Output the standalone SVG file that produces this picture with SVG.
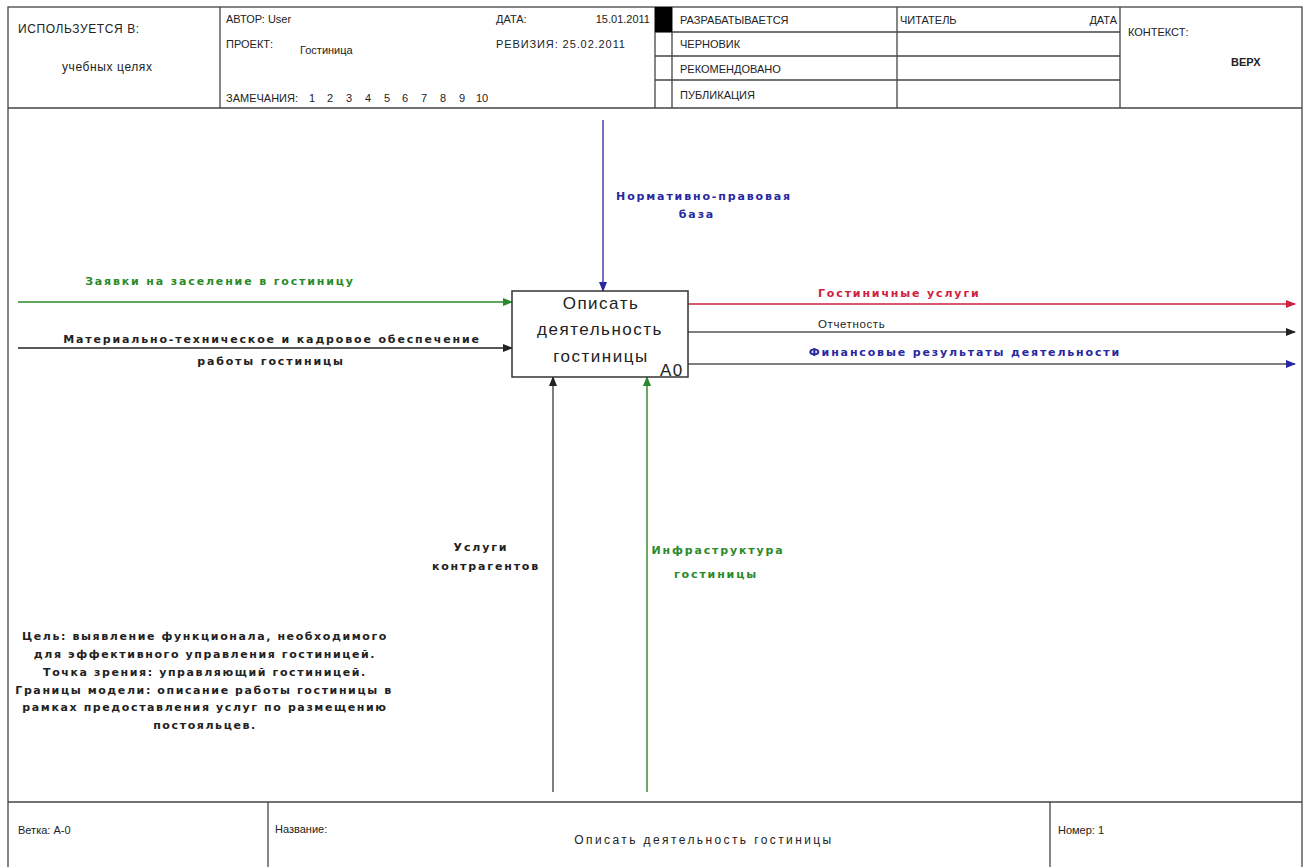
<svg xmlns="http://www.w3.org/2000/svg" width="1309" height="867" viewBox="0 0 1309 867">
<style>
.t{font-family:"Liberation Sans",Arial,sans-serif;font-size:11px;fill:#222}
.h{font-family:"Liberation Sans",Arial,sans-serif;font-size:12px;letter-spacing:0.6px;fill:#222}
.b{font-family:"Liberation Sans",Arial,sans-serif;font-size:11px;font-weight:bold;fill:#222}
.lbl{font-family:"DejaVu Sans",sans-serif;font-size:11px;font-weight:bold;letter-spacing:1.85px}
.ln{stroke:#444;stroke-width:1.3;fill:none}
.box{font-family:"Liberation Sans",Arial,sans-serif;font-size:17px;letter-spacing:1.5px;fill:#222}
.ft{font-family:"Liberation Sans",Arial,sans-serif;font-size:12px;letter-spacing:2.4px;fill:#222}
</style>
<defs>
<marker id="ab" markerWidth="10" markerHeight="8" refX="9" refY="4" orient="auto" markerUnits="userSpaceOnUse"><path d="M0,0 L10,4 L0,8 Z" fill="#222"/></marker>
<marker id="ag" markerWidth="10" markerHeight="8" refX="9" refY="4" orient="auto" markerUnits="userSpaceOnUse"><path d="M0,0 L10,4 L0,8 Z" fill="#2a8a2a"/></marker>
<marker id="ar" markerWidth="10" markerHeight="8" refX="9" refY="4" orient="auto" markerUnits="userSpaceOnUse"><path d="M0,0 L10,4 L0,8 Z" fill="#d02040"/></marker>
<marker id="au" markerWidth="10" markerHeight="8" refX="9" refY="4" orient="auto" markerUnits="userSpaceOnUse"><path d="M0,0 L10,4 L0,8 Z" fill="#2828a0"/></marker>
</defs>
<rect width="1309" height="867" fill="#fff"/>
<g id="frame">
<rect x="8" y="7" width="1294" height="870" class="ln"/>
<line x1="8" y1="108" x2="1302" y2="108" class="ln"/>
<line x1="8" y1="802" x2="1302" y2="802" class="ln"/>
<line x1="220" y1="7" x2="220" y2="108" class="ln"/>
<line x1="655" y1="7" x2="655" y2="108" class="ln"/>
<line x1="672" y1="7" x2="672" y2="108" class="ln"/>
<line x1="897" y1="7" x2="897" y2="108" class="ln"/>
<line x1="1120" y1="7" x2="1120" y2="108" class="ln"/>
<line x1="655" y1="32" x2="1120" y2="32" class="ln"/>
<line x1="655" y1="56" x2="1120" y2="56" class="ln"/>
<line x1="655" y1="80" x2="1120" y2="80" class="ln"/>
<rect x="655" y="7" width="17" height="25" fill="#000"/>
<line x1="268" y1="802" x2="268" y2="867" class="ln"/>
<line x1="1050" y1="802" x2="1050" y2="867" class="ln"/>
</g>
<g id="header">
<text class="h" x="18" y="33">ИСПОЛЬЗУЕТСЯ В:</text>
<text class="h" x="62" y="71">учебных целях</text>
<text class="t" x="226" y="23">АВТОР: User</text>
<text class="t" x="226" y="48">ПРОЕКТ:</text>
<text class="t" x="300" y="54">Гостиница</text>
<text class="t" x="496" y="23">ДАТА:</text>
<text class="t" x="650" y="23" text-anchor="end">15.01.2011</text>
<text class="t" x="496" y="48" letter-spacing="0.9">РЕВИЗИЯ: 25.02.2011</text>
<text class="t" x="226" y="102">ЗАМЕЧАНИЯ:</text>
<text class="t" y="102"><tspan x="309">1</tspan><tspan x="327">2</tspan><tspan x="346">3</tspan><tspan x="365">4</tspan><tspan x="384">5</tspan><tspan x="402">6</tspan><tspan x="421">7</tspan><tspan x="440">8</tspan><tspan x="459">9</tspan><tspan x="476">10</tspan></text>
<text class="t" x="680" y="24">РАЗРАБАТЫВАЕТСЯ</text>
<text class="t" x="900" y="24">ЧИТАТЕЛЬ</text>
<text class="t" x="1117" y="24" text-anchor="end">ДАТА</text>
<text class="t" x="680" y="48">ЧЕРНОВИК</text>
<text class="t" x="680" y="73">РЕКОМЕНДОВАНО</text>
<text class="t" x="680" y="99">ПУБЛИКАЦИЯ</text>
<text class="t" x="1128" y="36">КОНТЕКСТ:</text>
<text class="b" x="1231" y="66">ВЕРХ</text>
</g>
<g id="connectors">
<line x1="603" y1="120" x2="603" y2="291" stroke="#2828a0" stroke-width="1.3" marker-end="url(#au)"/>
<line x1="18" y1="302" x2="512" y2="302" stroke="#2a8a2a" stroke-width="1.3" marker-end="url(#ag)"/>
<line x1="18" y1="348" x2="512" y2="348" stroke="#222" stroke-width="1.5" marker-end="url(#ab)"/>
<line x1="688" y1="304" x2="1295" y2="304" stroke="#d02040" stroke-width="1.6" marker-end="url(#ar)"/>
<line x1="688" y1="332" x2="1295" y2="332" stroke="#555" stroke-width="1.3" marker-end="url(#ab)"/>
<line x1="688" y1="364" x2="1295" y2="364" stroke="#555" stroke-width="1.3" marker-end="url(#au)"/>
<line x1="553" y1="792" x2="553" y2="377" stroke="#555" stroke-width="1.5" marker-end="url(#ab)"/>
<line x1="647" y1="792" x2="647" y2="377" stroke="#3a8a3a" stroke-width="1.5" marker-end="url(#ag)"/>
<g class="lbl">
<text x="704" y="200" text-anchor="middle" fill="#2828a0">Нормативно-правовая</text>
<text x="697" y="218" text-anchor="middle" fill="#2828a0">база</text>
<text x="220" y="285" text-anchor="middle" fill="#2a8a2a">Заявки на заселение в гостиницу</text>
<text x="272" y="343" text-anchor="middle" fill="#222">Материально-техническое и кадровое обеспечение</text>
<text x="271" y="365" text-anchor="middle" fill="#222">работы гостиницы</text>
<text x="818" y="297" fill="#d02040">Гостиничные услуги</text>
<text x="965" y="356" text-anchor="middle" fill="#2828a0">Финансовые результаты деятельности</text>
<text x="481" y="551" text-anchor="middle" fill="#222">Услуги</text>
<text x="486" y="570" text-anchor="middle" fill="#222">контрагентов</text>
<text x="718" y="554" text-anchor="middle" fill="#2a8a2a">Инфраструктура</text>
<text x="716" y="578" text-anchor="middle" fill="#2a8a2a">гостиницы</text>
</g>
<text x="818" y="328" font-family="Liberation Sans, Arial, sans-serif" font-size="11.5" letter-spacing="0.6" fill="#222">Отчетность</text>
</g>
<g id="A0">
<rect x="512" y="291" width="176" height="86" fill="#fff" stroke="#333" stroke-width="1.5"/>
<text class="box" x="601" y="309" text-anchor="middle">Описать</text>
<text class="box" x="600" y="335" text-anchor="middle">деятельность</text>
<text class="box" x="601" y="362" text-anchor="middle">гостиницы</text>
<text class="box" x="660" y="376" letter-spacing="0">A0</text>
</g>
<g id="notes" class="lbl" fill="#222" style="letter-spacing:1.6px">
<text x="205" y="640" text-anchor="middle">Цель: выявление функционала, необходимого</text>
<text x="205" y="658" text-anchor="middle">для эффективного управления гостиницей.</text>
<text x="205" y="676" text-anchor="middle">Точка зрения: управляющий гостиницей.</text>
<text x="204" y="694" text-anchor="middle">Границы модели: описание работы гостиницы в</text>
<text x="205" y="711" text-anchor="middle">рамках предоставления услуг по размещению</text>
<text x="205" y="729" text-anchor="middle">постояльцев.</text>
</g>
<g id="footer">
<text class="t" x="18" y="834">Ветка:  A-0</text>
<text class="t" x="275" y="833">Название:</text>
<text class="ft" x="704" y="844" text-anchor="middle">Описать деятельность гостиницы</text>
<text class="t" x="1058" y="834">Номер: 1</text>
</g>
</svg>
